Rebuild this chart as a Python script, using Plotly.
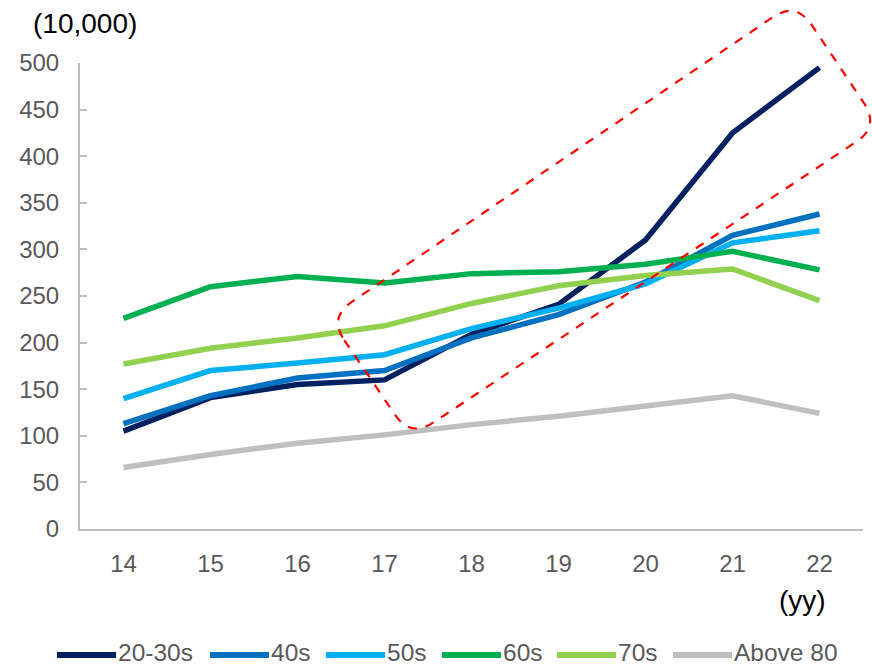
import plotly.graph_objects as go

# Years (yy) on the x axis
years = ["14", "15", "16", "17", "18", "19", "20", "21", "22"]

# Values by age group, in units of 10,000
age_20_30s = [105, 141, 155, 160, 209, 241, 310, 425, 495]
age_40s = [113, 143, 162, 170, 205, 230, 265, 315, 338]
age_50s = [140, 170, 178, 187, 215, 237, 263, 307, 320]
age_60s = [226, 260, 271, 264, 274, 276, 284, 298, 278]
age_70s = [177, 194, 205, 218, 242, 261, 272, 279, 245]
age_80_plus = [66, 80, 92, 101, 112, 121, 132, 143, 124]

series_names = ["20-30s", "40s", "50s", "60s", "70s", "Above 80"]
series_values = [age_20_30s, age_40s, age_50s, age_60s, age_70s, age_80_plus]
series_colors = ["#002060", "#0070C0", "#00B0F0", "#00B050", "#92D050", "#BFBFBF"]

y_ticks = [0, 50, 100, 150, 200, 250, 300, 350, 400, 450, 500]

W, H = 872, 668
M_L, M_R, M_T, M_B = 80, 9, 63, 139
PLOT_W = W - M_L - M_R
PLOT_H = H - M_T - M_B

X_RANGE = (-0.5, 8.5)
Y_RANGE = (0, 500)

fig = go.Figure()
for name, vals, color in zip(series_names, series_values, series_colors):
    fig.add_trace(go.Scatter(
        x=list(range(len(years))), y=vals, name=name, mode="lines",
        line=dict(color=color, width=5.5), showlegend=False,
    ))


def px_to_paper_x(px):
    return (px - M_L) / PLOT_W


def px_to_paper_y(py):
    return (H - M_B - py) / PLOT_H


def to_paper(pt):
    x, y = pt
    return ((x - X_RANGE[0]) / (X_RANGE[1] - X_RANGE[0]),
            (y - Y_RANGE[0]) / (Y_RANGE[1] - Y_RANGE[0]))


def lerp(a, b, t):
    return (a[0] + (b[0] - a[0]) * t, a[1] + (b[1] - a[1]) * t)


def rounded_path(corners, frac_short=0.19, frac_long=0.049):
    # edges 0-1 and 2-3 are the short sides, 1-2 and 3-0 the long sides
    pts = [to_paper(c) for c in corners]
    n = len(pts)
    segs = []
    for i in range(n):
        p, prev, nxt = pts[i], pts[i - 1], pts[(i + 1) % n]
        f_prev = frac_long if i % 2 == 0 else frac_short
        f_next = frac_short if i % 2 == 0 else frac_long
        segs.append((lerp(p, prev, f_prev), p, lerp(p, nxt, f_next)))
    d = "M {:.5f},{:.5f} ".format(*segs[0][2])
    for k in range(1, n + 1):
        a, c, b = segs[k % n]
        d += "L {:.5f},{:.5f} Q {:.5f},{:.5f} {:.5f},{:.5f} ".format(
            a[0], a[1], c[0], c[1], b[0], b[1])
    return d + "Z"


# Highlight box (rotated rounded rectangle) around the 18-22 rise, corners in data units
box_corners = [(2.36, 227.0), (3.30, 98.0), (8.69, 432.0), (7.73, 566.0)]

fig.add_shape(type="path", xref="paper", yref="paper",
              path=rounded_path(box_corners),
              line=dict(color="#FF0000", width=2.2, dash="dash"),
              fillcolor="rgba(0,0,0,0)", layer="above")

font_family = "Liberation Sans, Arial, sans-serif"
FS = 24

# Legend drawn below the plot: a long line swatch followed by the label
legend_starts = [57, 210, 326, 442, 557, 673]
swatch_y = px_to_paper_y(655)
label_y = px_to_paper_y(652)
annotations = []
for name, color, x0 in zip(series_names, series_colors, legend_starts):
    fig.add_shape(type="line", xref="paper", yref="paper",
                  x0=px_to_paper_x(x0), x1=px_to_paper_x(x0 + 59),
                  y0=swatch_y, y1=swatch_y,
                  line=dict(color=color, width=6))
    annotations.append(dict(
        text=name, xref="paper", yref="paper",
        x=px_to_paper_x(x0 + 60), y=label_y,
        xanchor="left", yanchor="middle", showarrow=False, borderpad=0,
        font=dict(size=24.5, color="#595959")))

annotations += [
    dict(text="(10,000)", xref="paper", yref="paper",
         x=px_to_paper_x(84.5), y=px_to_paper_y(24),
         xanchor="center", yanchor="middle", showarrow=False,
         font=dict(size=28, color="#000000")),
    dict(text="(yy)", xref="paper", yref="paper",
         x=px_to_paper_x(802.5), y=px_to_paper_y(600),
         xanchor="center", yanchor="middle", showarrow=False,
         font=dict(size=28, color="#000000")),
]

fig.update_layout(
    width=W, height=H,
    margin=dict(l=M_L, r=M_R, t=M_T, b=M_B, autoexpand=False),
    plot_bgcolor="white", paper_bgcolor="white",
    font=dict(family=font_family, size=FS, color="#595959"),
    showlegend=False,
    xaxis=dict(
        range=list(X_RANGE), tickmode="array",
        tickvals=list(range(len(years))), ticktext=years,
        showgrid=False, zeroline=False,
        showline=True, linecolor="#BFBFBF", linewidth=2,
        ticks="", ticklabelstandoff=12,
        tickfont=dict(size=FS, color="#595959"),
    ),
    yaxis=dict(
        range=list(Y_RANGE), tickmode="array", tickvals=y_ticks,
        showgrid=False, zeroline=False,
        showline=True, linecolor="#BFBFBF", linewidth=2,
        ticks="inside", ticklen=7, tickcolor="#BFBFBF", tickwidth=1.5,
        ticklabelstandoff=14,
        tickfont=dict(size=FS, color="#595959"),
    ),
    annotations=annotations,
)

fig.write_html("out.html")
